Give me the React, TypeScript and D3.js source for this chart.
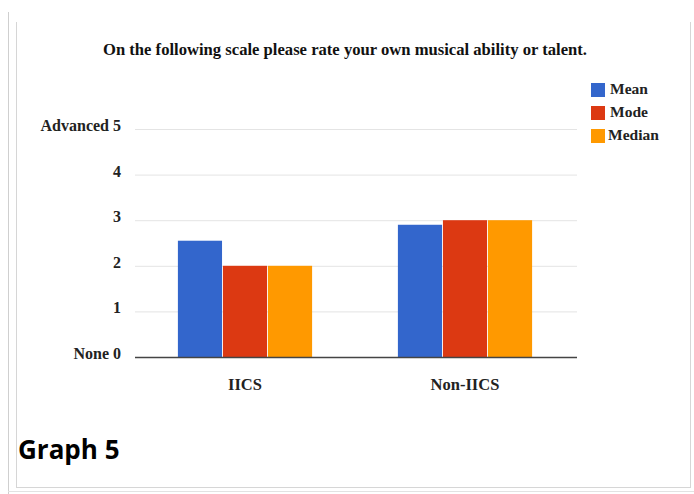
import * as d3 from 'd3';

const categories = ['IICS', 'Non-IICS'];
const seriesNames = ['Mean', 'Mode', 'Median'];
const meanValues = [2.55, 2.9];
const modeValues = [2, 3];
const medianValues = [2, 3];
const yTickValues = [0, 1, 2, 3, 4, 5];
const yTickLabels = ['None 0', '1', '2', '3', '4', 'Advanced 5'];
const colors = ['#3366cc', '#dc3912', '#ff9900'];

const title = 'On the following scale please rate your own musical ability or talent.';
const caption = 'Graph 5';

const serif = '"Liberation Serif", "Times New Roman", serif';

export default function App() {
	const width = 694;
	const height = 494;
	const plot = { left: 135, right: 577, top: 129, bottom: 357 };

	const series = [meanValues, modeValues, medianValues];

	// outer band for the two groups
	const x = d3
		.scaleBand<string>()
		.domain(categories)
		.range([plot.left, plot.right - 2])
		.paddingInner(0.39)
		.paddingOuter(0.195);

	// inner band for the three bars
	const x1 = d3
		.scaleBand<string>()
		.domain(seriesNames)
		.range([0, x.bandwidth()])
		.paddingInner(0.02);

	const y = d3.scaleLinear().domain([0, 5]).range([plot.bottom, plot.top]);

	const color = d3.scaleOrdinal<string>().domain(seriesNames).range(colors);

	return (
		<svg
			width={width}
			height={height}
			style={{ position: 'absolute', left: 0, top: 0, background: '#fff' }}
		>
			{/* page frame */}
			<line x1={8.5} y1={12} x2={8.5} y2={494} stroke="#cfcfcf" />
			<line x1={8} y1={491.5} x2={694} y2={491.5} stroke="#e2e2e2" />
			<line x1={16.5} y1={22} x2={16.5} y2={488} stroke="#d6d6d6" />
			<line x1={690.5} y1={22} x2={690.5} y2={488} stroke="#d6d6d6" />
			<line x1={16} y1={487.5} x2={691} y2={487.5} stroke="#d6d6d6" />

			<text
				x={345}
				y={55}
				textAnchor="middle"
				fontFamily={serif}
				fontWeight="bold"
				fontSize={16.5}
				textLength={484}
				lengthAdjust="spacingAndGlyphs"
				fill="#111"
			>
				{title}
			</text>

			{/* gridlines + y labels */}
			{yTickValues.map((t, i) => (
				<g key={t}>
					{t > 0 && (
						<line
							x1={plot.left}
							x2={plot.right}
							y1={y(t) + 0.5}
							y2={y(t) + 0.5}
							stroke="#e4e4e4"
						/>
					)}
					<text
						x={121}
						y={y(t) + 2}
						textAnchor="end"
						fontFamily={serif}
						fontWeight="bold"
						fontSize={16}
						fill="#222"
					>
						{yTickLabels[i]}
					</text>
				</g>
			))}

			{/* bars */}
			{categories.map((c, ci) => (
				<g key={c} transform={`translate(${x(c)},0)`}>
					{seriesNames.map((s, si) => (
						<rect
							key={s}
							x={x1(s)}
							y={y(series[si][ci])}
							width={x1.bandwidth()}
							height={y(0) - y(series[si][ci])}
							fill={color(s)}
						/>
					))}
				</g>
			))}

			{/* baseline */}
			<line
				x1={plot.left}
				x2={plot.right}
				y1={plot.bottom + 0.5}
				y2={plot.bottom + 0.5}
				stroke="#444"
				strokeWidth={1.5}
			/>

			{/* category labels */}
			{categories.map((c) => (
				<text
					key={c}
					x={x(c)! + x.bandwidth() / 2}
					y={390}
					textAnchor="middle"
					fontFamily={serif}
					fontWeight="bold"
					fontSize={16.5}
					fill="#222"
				>
					{c}
				</text>
			))}

			{/* legend */}
			{seriesNames.map((s, i) => (
				<g key={s} transform={`translate(591,${83 + i * 23})`}>
					<rect width={14} height={14} fill={color(s)} />
					<text
						x={i === 2 ? 17 : 19}
						y={11}
						fontFamily={serif}
						fontWeight="bold"
						fontSize={15.5}
						fill="#222"
					>
						{s}
					</text>
				</g>
			))}

			<text
				x={18}
				y={459}
				fontFamily='"Open Sans", "Noto Sans", sans-serif'
				fontWeight="bold"
				fontSize={26}
				fill="#000"
			>
				{caption}
			</text>
		</svg>
	);
}
